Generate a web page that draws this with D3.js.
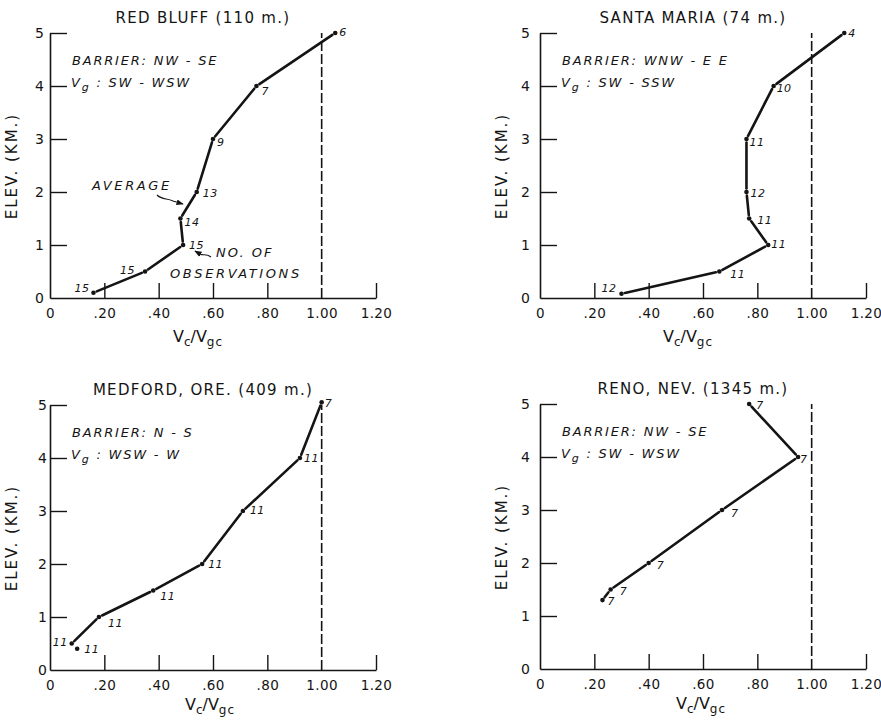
<!DOCTYPE html>
<html>
<head>
<meta charset="utf-8">
<script src="https://cdn.jsdelivr.net/npm/d3@7"></script>
<style>
  body { margin: 0; background: #fff; }
  svg text { fill: #141414; }
</style>
</head>
<body>
<svg id="chart" width="881" height="725"></svg>
<script>
// ---- Data ---------------------------------------------------------------
const stationTitles = ["RED BLUFF (110 m.)", "SANTA MARIA (74 m.)", "MEDFORD, ORE. (409 m.)", "RENO, NEV. (1345 m.)"];
const barrierText = ["NW - SE", "WNW - E  E", "N - S", "NW - SE"];
const flowText = ["SW - WSW", "SW - SSW", "WSW - W", "SW - WSW"];

// Vc/Vgc ratio, elevation (km) and number of observations at each level
const redBluffRatio = [0.16, 0.35, 0.49, 0.48, 0.54, 0.60, 0.76, 1.05];
const redBluffElev  = [0.1, 0.5, 1.0, 1.5, 2.0, 3.0, 4.0, 5.0];
const redBluffObs   = [15, 15, 15, 14, 13, 9, 7, 6];

const santaMariaRatio = [0.30, 0.66, 0.84, 0.77, 0.76, 0.76, 0.86, 1.12];
const santaMariaElev  = [0.08, 0.5, 1.0, 1.5, 2.0, 3.0, 4.0, 5.0];
const santaMariaObs   = [12, 11, 11, 11, 12, 11, 10, 4];

const medfordRatio = [0.10, 0.08, 0.18, 0.38, 0.56, 0.71, 0.92, 1.00];
const medfordElev  = [0.4, 0.5, 1.0, 1.5, 2.0, 3.0, 4.0, 5.05];
const medfordObs   = [11, 11, 11, 11, 11, 11, 11, 7];

const renoRatio = [0.23, 0.26, 0.40, 0.67, 0.95, 0.77];
const renoElev  = [1.3, 1.5, 2.0, 3.0, 4.0, 5.0];
const renoObs   = [7, 7, 7, 7, 7, 7];

const xTickValues = [0, 0.2, 0.4, 0.6, 0.8, 1.0, 1.2];
const xTickLabels = ["0", ".20", ".40", ".60", ".80", "1.00", "1.20"];
const yTickValues = [0, 1, 2, 3, 4, 5];
const yTickLabels = ["0", "1", "2", "3", "4", "5"];
const referenceRatio = 1.0;

// ---- Layout -------------------------------------------------------------
const plotW = 326, plotH = 265;
const panelOrigins = [[50, 33], [540, 33], [50, 405], [540, 404]];
const yTickPadding = [6, 10, 3, 10];
const axisTitleDx = [148, 148, 160, 161];
const axisTitleDy = [44, 44, 40, 40];

// number-label placement per point: [dx, dy, anchor]
const redBluffLabelPos = [[-4, -1, "end"], [-10, 2, "end"], [6, 4, "start"], [4, 7, "start"], [6, 5, "start"], [4, 7, "start"], [5, 9, "start"], [4, 3, "start"]];
const santaMariaLabelPos = [[-5, -2, "end"], [11, 6, "start"], [3, 3, "start"], [8, 5, "start"], [4, 5, "start"], [3, 7, "start"], [3, 6, "start"], [4, 4, "start"]];
const medfordLabelPos = [[7, 4, "start"], [-4, 2, "end"], [9, 10, "start"], [7, 9, "start"], [6, 4, "start"], [7, 3, "start"], [4, 4, "start"], [3, 5, "start"]];
const renoLabelPos = [[5, 5, "start"], [9, 5, "start"], [8, 6, "start"], [9, 7, "start"], [2, 6, "start"], [7, 5, "start"]];

const stations = [
  { ratio: redBluffRatio, elev: redBluffElev, obs: redBluffObs, labelPos: redBluffLabelPos },
  { ratio: santaMariaRatio, elev: santaMariaElev, obs: santaMariaObs, labelPos: santaMariaLabelPos },
  { ratio: medfordRatio, elev: medfordElev, obs: medfordObs, labelPos: medfordLabelPos },
  { ratio: renoRatio, elev: renoElev, obs: renoObs, labelPos: renoLabelPos }
];

const ink = "#141414";
const svg = d3.select("#chart");

const defs = svg.append("defs");
defs.append("marker")
  .attr("id", "arrowhead")
  .attr("viewBox", "0 0 10 10")
  .attr("refX", 9).attr("refY", 5)
  .attr("markerWidth", 6).attr("markerHeight", 6)
  .attr("orient", "auto")
  .append("path").attr("d", "M0,1 L10,5 L0,9 Z").attr("fill", ink);

const x = d3.scaleLinear().domain([0, 1.2]).range([0, plotW]);
const y = d3.scaleLinear().domain([0, 5]).range([plotH, 0]);

function italicNote(g, tx, ty, txt, spacing) {
  return g.append("text")
    .attr("x", tx).attr("y", ty)
    .attr("font-family", "DejaVu Sans").attr("font-style", "italic")
    .attr("font-size", 13).attr("letter-spacing", spacing)
    .text(txt);
}

stations.forEach((st, i) => {
  const [ox, oy] = panelOrigins[i];
  const g = svg.append("g").attr("transform", `translate(${ox},${oy})`);

  // x axis with inward ticks
  const xAxis = d3.axisBottom(x)
    .tickValues(xTickValues)
    .tickFormat((d, k) => xTickLabels[k])
    .tickSize(-15).tickSizeOuter(0).tickPadding(10);
  const gx = g.append("g").attr("transform", `translate(0,${plotH})`).call(xAxis);
  gx.select(".domain").attr("stroke", ink).attr("stroke-width", 1.6);
  gx.selectAll(".tick line").attr("stroke", ink).attr("stroke-width", 1.4)
    .filter(d => d === 0 || d === referenceRatio).remove();
  gx.selectAll(".tick text")
    .attr("font-family", "DejaVu Sans").attr("font-size", 13.5)
    .attr("letter-spacing", 0.4).attr("fill", ink);

  // y axis with inward ticks
  const yAxis = d3.axisLeft(y)
    .tickValues(yTickValues)
    .tickFormat((d, k) => yTickLabels[k])
    .tickSize(-17).tickSizeOuter(0).tickPadding(yTickPadding[i]);
  const gy = g.append("g").call(yAxis);
  gy.select(".domain").attr("stroke", ink).attr("stroke-width", 1.6);
  gy.selectAll(".tick line").attr("stroke", ink).attr("stroke-width", 1.4)
    .filter(d => d === 0).remove();
  gy.selectAll(".tick text")
    .attr("font-family", "DejaVu Sans").attr("font-size", 14).attr("fill", ink);

  // Vc/Vgc = 1 reference line
  g.append("line")
    .attr("x1", x(referenceRatio)).attr("x2", x(referenceRatio))
    .attr("y1", y(0)).attr("y2", y(5))
    .attr("stroke", ink).attr("stroke-width", 1.6)
    .attr("stroke-dasharray", "10,3");

  // Station title
  g.append("text")
    .attr("x", plotW / 2 - 10).attr("y", -10)
    .attr("text-anchor", "middle")
    .attr("font-family", "DejaVu Sans").attr("font-size", 15)
    .attr("letter-spacing", 1.3)
    .text(stationTitles[i]);

  // Axis titles
  g.append("text")
    .attr("transform", `translate(${-33},${133}) rotate(-90)`)
    .attr("text-anchor", "middle")
    .attr("font-family", "DejaVu Sans").attr("font-size", 15)
    .attr("letter-spacing", 2)
    .text("ELEV. (KM.)");

  const xt = g.append("text")
    .attr("x", axisTitleDx[i]).attr("y", plotH + axisTitleDy[i])
    .attr("text-anchor", "middle")
    .attr("font-family", "DejaVu Sans").attr("font-size", 16);
  xt.append("tspan").text("V");
  xt.append("tspan").attr("font-size", 12).attr("dy", 4).text("c");
  xt.append("tspan").attr("dy", -4).text("/");
  xt.append("tspan").text("V");
  xt.append("tspan").attr("font-size", 12).attr("dy", 4).attr("letter-spacing", 1).text("gc");

  // Barrier orientation and geostrophic wind direction
  italicNote(g, 22, 32, "BARRIER: " + barrierText[i], 1.8);
  const vg = g.append("text")
    .attr("x", 21).attr("y", 54)
    .attr("font-family", "DejaVu Sans").attr("font-style", "italic")
    .attr("font-size", 13).attr("letter-spacing", 1.8);
  vg.append("tspan").text("V");
  vg.append("tspan").attr("font-size", 11).attr("dy", 4).text("g");
  vg.append("tspan").attr("dy", -4).text(" : " + flowText[i]);

  // Profile: segments stop short of each point
  const pts = st.ratio.map((r, k) => [x(r), y(st.elev[k])]);
  const gap = 3.5;
  for (let k = 0; k < pts.length - 1; k++) {
    const [x0, y0] = pts[k], [x1, y1] = pts[k + 1];
    const len = Math.hypot(x1 - x0, y1 - y0);
    if (len <= 2 * gap + 2) continue;
    const ux = (x1 - x0) / len, uy = (y1 - y0) / len;
    g.append("line")
      .attr("x1", x0 + ux * gap).attr("y1", y0 + uy * gap)
      .attr("x2", x1 - ux * gap).attr("y2", y1 - uy * gap)
      .attr("stroke", ink).attr("stroke-width", 2.6).attr("stroke-linecap", "round");
  }
  g.selectAll("circle.pt").data(pts).join("circle")
    .attr("class", "pt")
    .attr("cx", d => d[0]).attr("cy", d => d[1]).attr("r", 2.3)
    .attr("fill", ink);

  // Number of observations at each level
  g.selectAll("text.obs").data(st.obs).join("text")
    .attr("class", "obs")
    .attr("x", (d, k) => pts[k][0] + st.labelPos[k][0])
    .attr("y", (d, k) => pts[k][1] + st.labelPos[k][1])
    .attr("text-anchor", (d, k) => st.labelPos[k][2])
    .attr("font-family", "DejaVu Sans").attr("font-style", "italic")
    .attr("font-size", 11).attr("letter-spacing", 0.5)
    .text(d => d);

  if (i === 0) {
    // Key to the profile and its numbers
    italicNote(g, 42, 157, "AVERAGE", 2.6);
    g.append("path")
      .attr("d", "M107,162 C112,167 117,165 123,168 L133,171")
      .attr("fill", "none").attr("stroke", ink).attr("stroke-width", 1.2)
      .attr("marker-end", "url(#arrowhead)");
    italicNote(g, 166, 224, "NO. OF", 2);
    italicNote(g, 120, 245, "OBSERVATIONS", 2.6);
    g.append("path")
      .attr("d", "M161,224 C156,220 153,223 150,221 L145,218")
      .attr("fill", "none").attr("stroke", ink).attr("stroke-width", 1.2)
      .attr("marker-end", "url(#arrowhead)");
  }
});
</script>
</body>
</html>
